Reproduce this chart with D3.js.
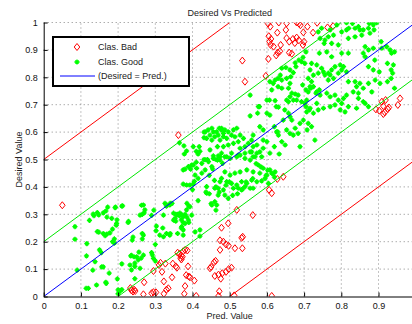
<!DOCTYPE html>
<html>
<head>
<meta charset="utf-8">
<script src="https://cdn.jsdelivr.net/npm/d3@7"></script>
<style>
  body { margin: 0; background: #fff; }
  svg { display: block; font-family: "Liberation Sans", Arial, sans-serif; }
  .grid line { stroke: #888; stroke-dasharray: 1,3; }
  .axis path, .axis line { stroke: #000; }
  .axis text { font-size: 9px; fill: #111; }
</style>
</head>
<body>
<div id="chart"></div>
<script>
// points classified bad [pred, desired]
var badPoints = [
  [0.05,0.333],[0.362,0.589],[0.534,0.861],[0.541,0.784],[0.597,0.805],
  [0.604,0.867],[0.609,0.985],[0.605,0.95],[0.611,0.94],[0.61,0.918],[0.618,0.912],[0.628,0.963],
  [0.632,1.0],[0.637,0.918],[0.629,0.89],[0.625,0.88],[0.635,0.895],[0.653,0.997],[0.653,0.943],
  [0.66,0.93],[0.68,1.0],[0.686,0.996],[0.69,0.99],[0.68,0.945],[0.686,0.935],[0.709,0.985],
  [0.697,0.918],[0.66,0.89],[0.667,0.886],[0.651,0.973],[0.67,0.94],[0.675,0.925],[0.698,0.964],
  [0.7,0.93],[0.724,0.963],[0.735,0.999],[0.763,0.982],[0.778,0.987],[0.603,0.996],[0.607,0.93],
  [0.893,0.683],[0.902,0.678],[0.909,0.711],[0.913,0.695],[0.919,0.717],[0.925,0.684],
  [0.928,0.69],[0.913,0.666],[0.917,0.672],[0.952,0.699],[0.958,0.723],
  [0.644,0.437],[0.628,0.429],[0.606,0.389],[0.613,0.377],[0.519,0.316],[0.562,0.297],
  [0.496,0.267],[0.478,0.251],[0.483,0.2],[0.49,0.19],[0.497,0.185],[0.514,0.176],[0.532,0.214],
  [0.535,0.218],[0.534,0.176],[0.474,0.17],[0.474,0.205],[0.462,0.13],[0.458,0.125],[0.447,0.103],
  [0.45,0.108],[0.46,0.075],[0.47,0.08],[0.48,0.085],[0.49,0.09],[0.497,0.1],[0.505,0.105],
  [0.476,0.065],[0.472,0.019],[0.47,0.002],[0.512,0.004],[0.613,0.002],
  [0.233,0.031],[0.236,0.022],[0.24,0.018],[0.243,0.025],[0.246,0.02],[0.268,0.008],[0.27,0.052],
  [0.29,0.012],[0.295,0.016],[0.302,0.015],[0.314,0.123],[0.318,0.09],[0.323,0.055],[0.323,0.01],
  [0.33,0.025],[0.327,0.12],[0.345,0.07],[0.347,0.12],[0.355,0.11],[0.358,0.105],[0.36,0.16],
  [0.365,0.155],[0.37,0.15],[0.368,0.14],[0.373,0.145],[0.37,0.135],[0.375,0.165],[0.38,0.17],
  [0.386,0.168],[0.388,0.11],[0.39,0.073],[0.393,0.07],[0.38,0.038],[0.378,0.01],[0.405,0.058],
  [0.41,0.002],[0.295,0.093],[0.31,0.115],[0.335,0.03],[0.383,0.078]
];

// points classified good [pred, desired]
var goodPoints = [
  [0.084,0.255],[0.084,0.209],[0.123,0.278],[0.133,0.301],[0.144,0.306],[0.172,0.326],[0.167,0.312],
  [0.193,0.326],[0.21,0.33],[0.183,0.285],[0.196,0.267],[0.227,0.27],[0.144,0.237],[0.16,0.23],
  [0.17,0.228],[0.178,0.232],[0.185,0.246],[0.185,0.2],[0.19,0.195],[0.116,0.193],[0.15,0.17],
  [0.155,0.16],[0.238,0.206],[0.115,0.148],[0.138,0.127],[0.156,0.108],[0.16,0.108],[0.132,0.096],
  [0.176,0.085],[0.09,0.096],[0.21,0.119],[0.236,0.15],[0.198,0.064],[0.167,0.052],[0.168,0.048],
  [0.142,0.042],[0.114,0.03],[0.12,0.03],[0.2,0.024],[0.21,0.025],[0.2,0.01],[0.205,0.02],
  [0.135,0.295],[0.148,0.298],[0.16,0.305],[0.17,0.29],[0.148,0.235],[0.165,0.222],
  [0.192,0.324],[0.197,0.28],[0.195,0.26],[0.19,0.21],[0.212,0.331],[0.228,0.274],[0.24,0.217],
  [0.234,0.148],[0.243,0.145],[0.245,0.122],[0.245,0.11],[0.256,0.162],[0.245,0.065],[0.263,0.333],
  [0.265,0.3],[0.27,0.305],[0.265,0.21],[0.265,0.23],[0.262,0.14],[0.29,0.296],[0.296,0.315],
  [0.303,0.257],[0.302,0.24],[0.3,0.19],[0.292,0.152],[0.29,0.16],[0.3,0.13],[0.32,0.25],
  [0.33,0.23],[0.34,0.23],[0.33,0.33],[0.34,0.34],[0.345,0.34],[0.355,0.3],[0.36,0.3],[0.365,0.295],
  [0.37,0.3],[0.355,0.275],[0.37,0.28],[0.375,0.27],[0.37,0.25],[0.36,0.23],[0.38,0.3],[0.385,0.29],
  [0.39,0.27],[0.39,0.33],[0.385,0.34],[0.4,0.39],[0.405,0.42],[0.378,0.52],[0.38,0.465],
  [0.395,0.465],[0.398,0.48],[0.41,0.53],[0.415,0.52],[0.42,0.53],[0.41,0.49],[0.415,0.35],[0.42,0.22],
  [0.365,0.561],[0.402,0.547],[0.418,0.547],[0.384,0.531],[0.377,0.55],[0.431,0.6],[0.431,0.58],
  [0.431,0.5],[0.434,0.601],[0.442,0.608],[0.452,0.614],[0.456,0.601],[0.447,0.589],[0.465,0.601],
  [0.472,0.614],[0.478,0.608],[0.438,0.577],[0.452,0.571],[0.46,0.583],[0.469,0.589],[0.474,0.571],
  [0.483,0.595],[0.467,0.547],[0.447,0.535],[0.456,0.513],[0.469,0.513],[0.478,0.523],[0.44,0.5],
  [0.463,0.5],
  [0.705,0.893],[0.697,0.873],[0.686,0.863],[0.693,0.857],[0.702,0.851],[0.676,0.853],[0.678,0.839],
  [0.72,0.851],[0.716,0.827],[0.725,0.808],[0.711,0.796],[0.72,0.784],[0.651,0.836],[0.662,0.827],
  [0.671,0.817],[0.664,0.802],[0.653,0.796],[0.64,0.833],[0.636,0.808],[0.63,0.796],[0.64,0.79],
  [0.622,0.79],[0.63,0.766],[0.64,0.76],[0.617,0.778],[0.608,0.784],[0.662,0.778],[0.658,0.76],
  [0.667,0.742],[0.662,0.729],[0.676,0.739],[0.671,0.717],[0.68,0.717],[0.658,0.711],[0.653,0.717],
  [0.613,0.754],[0.6,0.717],[0.607,0.717],[0.625,0.693],[0.631,0.691],[0.622,0.715],[0.555,0.735],
  [0.577,0.693],[0.555,0.659],[0.6,0.669],[0.608,0.662],[0.648,0.681],[0.658,0.669],[0.662,0.656],
  [0.667,0.644],[0.684,0.735],[0.693,0.711],[0.702,0.705],[0.707,0.717],[0.711,0.747],[0.716,0.766],
  [0.725,0.766],[0.707,0.674],[0.716,0.687],[0.725,0.669],[0.698,0.644],[0.711,0.632],[0.72,0.62],
  [0.708,0.608],[0.626,0.601],[0.631,0.589],[0.581,0.62],[0.59,0.571],[0.6,0.565],[0.563,0.547],
  [0.573,0.553],[0.559,0.528],[0.653,0.608],[0.662,0.595],[0.671,0.589],[0.676,0.614],[0.684,0.595],
  [0.689,0.632],[0.644,0.644],[0.64,0.565],[0.649,0.553],[0.608,0.523],[0.689,0.547],[0.729,0.571],
  [0.478,0.614],[0.487,0.608],[0.496,0.601],[0.51,0.608],[0.519,0.614],[0.505,0.589],[0.492,0.577],
  [0.483,0.583],[0.514,0.583],[0.528,0.589],[0.537,0.577],[0.523,0.565],[0.51,0.559],[0.496,0.553],
  [0.483,0.547],[0.528,0.541],[0.541,0.547],[0.55,0.559],[0.559,0.571],[0.563,0.589],[0.555,0.528],
  [0.541,0.523],[0.523,0.516],[0.505,0.523],[0.492,0.51],[0.563,0.51],[0.573,0.523],[0.581,0.528],
  [0.59,0.541],[0.586,0.51],[0.59,0.608],[0.58,0.693],[0.575,0.669],[0.62,0.62],[0.629,0.601],
  [0.62,0.547],[0.633,0.52],
  [0.814,0.999],[0.85,0.973],[0.837,0.979],[0.846,0.985],[0.859,0.973],[0.873,0.979],[0.886,0.991],
  [0.895,0.999],[0.888,0.973],[0.877,0.961],[0.855,0.954],[0.837,0.948],[0.819,0.942],[0.77,0.973],
  [0.788,0.991],[0.779,0.954],[0.765,0.948],[0.756,0.936],[0.743,0.942],[0.792,0.918],[0.774,0.924],
  [0.761,0.893],[0.801,0.888],[0.819,0.888],[0.774,0.875],[0.814,0.973],[0.864,0.912],[0.873,0.9],
  [0.886,0.906],[0.909,0.906],[0.922,0.912],[0.931,0.9],[0.935,0.888],[0.943,0.893],[0.94,0.845],
  [0.89,0.863],[0.886,0.827],[0.873,0.839],[0.859,0.888],[0.864,0.875],[0.734,0.845],[0.747,0.833],
  [0.765,0.815],[0.77,0.809],[0.774,0.827],[0.783,0.839],[0.797,0.845],[0.801,0.827],[0.806,0.839],
  [0.814,0.82],[0.792,0.815],[0.779,0.796],[0.765,0.79],[0.756,0.809],[0.752,0.82],[0.738,0.815],
  [0.819,0.784],[0.837,0.784],[0.85,0.778],[0.841,0.766],[0.832,0.747],[0.846,0.742],[0.859,0.76],
  [0.873,0.778],[0.882,0.747],[0.891,0.79],[0.904,0.778],[0.734,0.747],[0.743,0.735],[0.761,0.742],
  [0.77,0.729],[0.783,0.735],[0.792,0.717],[0.806,0.723],[0.814,0.735],[0.801,0.705],[0.783,0.699],
  [0.77,0.693],[0.752,0.687],[0.738,0.681],[0.734,0.705],[0.797,0.681],[0.81,0.674],[0.819,0.693],
  [0.846,0.723],[0.859,0.711],[0.864,0.705],[0.841,0.687],[0.873,0.693],[0.924,0.851],[0.934,0.827],
  [0.934,0.796],[0.924,0.784],[0.907,0.93],[0.902,0.82],[0.943,0.76],[0.938,0.815],[0.705,0.693],
  [0.714,0.681],[0.696,0.772],[0.705,0.754],[0.718,0.76],[0.732,0.742],[0.741,0.754],[0.741,0.888],
  [0.754,0.924],[0.738,0.966],[0.747,0.979],[0.801,0.966],[0.82,0.979],[0.83,0.997],[0.875,0.997],
  [0.884,1.0],
  [0.375,0.462],[0.389,0.474],[0.402,0.48],[0.411,0.468],[0.425,0.486],[0.434,0.499],[0.443,0.492],
  [0.456,0.504],[0.467,0.498],[0.474,0.51],[0.481,0.486],[0.452,0.474],[0.434,0.462],[0.425,0.45],
  [0.407,0.443],[0.415,0.431],[0.375,0.41],[0.384,0.407],[0.393,0.407],[0.402,0.41],[0.438,0.401],
  [0.438,0.377],[0.46,0.395],[0.469,0.395],[0.469,0.37],[0.46,0.346],[0.452,0.334],[0.465,0.334],
  [0.474,0.419],[0.268,0.334],[0.272,0.316],[0.259,0.297],[0.326,0.34],[0.331,0.334],[0.339,0.334],
  [0.322,0.297],[0.349,0.304],[0.358,0.297],[0.366,0.304],[0.375,0.291],[0.384,0.316],[0.393,0.328],
  [0.398,0.297],[0.389,0.279],[0.38,0.267],[0.371,0.255],[0.375,0.243],[0.349,0.279],[0.353,0.285],
  [0.268,0.224],[0.312,0.224],[0.322,0.218],[0.339,0.224],[0.375,0.224],[0.407,0.236],[0.42,0.243],
  [0.25,0.145],[0.254,0.134],[0.268,0.151],[0.295,0.139],[0.259,0.103],[0.232,0.115],[0.236,0.097],
  [0.474,0.498],[0.487,0.51],[0.501,0.504],[0.519,0.51],[0.528,0.516],[0.541,0.504],[0.555,0.498],
  [0.568,0.51],[0.577,0.48],[0.59,0.468],[0.608,0.462],[0.622,0.455],[0.613,0.45],[0.6,0.443],
  [0.581,0.45],[0.563,0.455],[0.546,0.462],[0.528,0.455],[0.514,0.45],[0.501,0.443],[0.487,0.455],
  [0.478,0.431],[0.492,0.419],[0.505,0.413],[0.519,0.407],[0.532,0.419],[0.546,0.413],[0.559,0.425],
  [0.573,0.419],[0.586,0.422],[0.595,0.431],[0.604,0.413],[0.51,0.395],[0.523,0.395],[0.532,0.389],
  [0.541,0.401],[0.555,0.395],[0.563,0.395],[0.487,0.37],[0.496,0.358],[0.483,0.389],
  [0.454,0.466],[0.445,0.442],[0.459,0.424],[0.463,0.4],[0.472,0.381],[0.49,0.406],[0.499,0.418],
  [0.508,0.369],[0.521,0.375],[0.535,0.393],[0.544,0.418],[0.562,0.43],[0.571,0.485],[0.584,0.473],
  [0.602,0.461],[0.616,0.448],[0.62,0.436],[0.598,0.442],[0.45,0.339],[0.463,0.315],[0.445,0.375],
  [0.436,0.381]
];

// x runs to 1 but the figure is cropped before the "1" label
var xTicks = [0, 0.1, 0.2, 0.3, 0.4, 0.5, 0.6, 0.7, 0.8, 0.9];
var yTicks = [0, 0.1, 0.2, 0.3, 0.4, 0.5, 0.6, 0.7, 0.8, 0.9, 1];
// reference lines: desired = pred + offset
var lineOffsets = [0.5, 0.2, 0, -0.2, -0.5];
var lineColors = ["#ff0000", "#00e600", "#0000ff", "#00e600", "#ff0000"];
var legendLabels = ["Clas. Bad", "Clas. Good", "(Desired = Pred.)"];

var svgWidth = 412, svgHeight = 324;
var margin = { top: 22.5, left: 43.7 };
var width = 372, height = 274;

var x = d3.scaleLinear().domain([0, 1]).range([margin.left, margin.left + width]);
var y = d3.scaleLinear().domain([0, 1]).range([margin.top + height, margin.top]);

var svg = d3.select("#chart").append("svg")
  .attr("width", svgWidth)
  .attr("height", svgHeight);

svg.append("defs").append("clipPath")
  .attr("id", "clip")
  .append("rect")
  .attr("x", x(0)).attr("y", y(1))
  .attr("width", width).attr("height", height);

// dotted grid
var grid = svg.append("g").attr("class", "grid");
grid.selectAll("line.v")
  .data(xTicks.slice(1))
  .enter().append("line")
  .attr("class", "v")
  .attr("x1", d => x(d)).attr("x2", d => x(d))
  .attr("y1", y(0)).attr("y2", y(1));

grid.selectAll("line.h")
  .data(yTicks.slice(1))
  .enter().append("line")
  .attr("class", "h")
  .attr("x1", x(0)).attr("x2", x(1))
  .attr("y1", d => y(d)).attr("y2", d => y(d));

var plot = svg.append("g").attr("clip-path", "url(#clip)");

// bad points, red diamonds
var diamond = "M0,-3.5L2.8,0L0,3.5L-2.8,0Z";
plot.append("g")
  .selectAll("path")
  .data(badPoints)
  .enter().append("path")
  .attr("d", diamond)
  .attr("transform", d => "translate(" + x(d[0]) + "," + y(d[1]) + ")")
  .attr("fill", "none")
  .attr("stroke", "#ff0000")
  .attr("stroke-width", 1);

// good points, green stars
var star = "M-2.6,0H2.6M0,-2.6V2.6M-1.6,-1.6L1.6,1.6M-1.6,1.6L1.6,-1.6";
plot.append("g")
  .selectAll("path")
  .data(goodPoints)
  .enter().append("path")
  .attr("d", star)
  .attr("transform", d => "translate(" + x(d[0]) + "," + y(d[1]) + ")")
  .attr("stroke", "#00ff00")
  .attr("stroke-width", 1.3);

// reference lines
var line = d3.line().x(d => x(d[0])).y(d => y(d[1]));
plot.append("g")
  .selectAll("path")
  .data(lineOffsets)
  .enter().append("path")
  .attr("d", o => line([[Math.max(0, -o), Math.max(0, -o) + o], [Math.min(1, 1 - o), Math.min(1, 1 - o) + o]]))
  .attr("stroke", (o, i) => lineColors[i])
  .attr("stroke-width", 1)
  .attr("fill", "none");

// axes
svg.append("g")
  .attr("class", "axis")
  .attr("transform", "translate(0," + y(0) + ")")
  .call(d3.axisBottom(x).tickValues(xTicks).tickFormat(d3.format("~g"))
    .tickSizeInner(-4).tickSizeOuter(0).tickPadding(6));

svg.append("g")
  .attr("class", "axis")
  .attr("transform", "translate(" + x(0) + ",0)")
  .call(d3.axisLeft(y).tickValues(yTicks).tickFormat(d3.format("~g"))
    .tickSizeInner(-4).tickSizeOuter(0).tickPadding(6));

// titles
svg.append("text")
  .attr("x", x(0.5)).attr("y", 16)
  .attr("text-anchor", "middle")
  .attr("font-size", 9).attr("fill", "#222")
  .text("Desired Vs Predicted");

svg.append("text")
  .attr("x", x(0.5)).attr("y", 318.5)
  .attr("text-anchor", "middle")
  .attr("font-size", 9).attr("fill", "#222")
  .text("Pred. Value");

svg.append("text")
  .attr("transform", "translate(22," + y(0.5) + ") rotate(-90)")
  .attr("text-anchor", "middle")
  .attr("font-size", 9).attr("fill", "#222")
  .text("Desired Value");

// legend
var legend = svg.append("g").attr("transform", "translate(53,37)");
legend.append("rect")
  .attr("width", 136).attr("height", 49)
  .attr("fill", "#fff").attr("stroke", "#000").attr("stroke-width", 2);

legend.append("path")
  .attr("d", diamond)
  .attr("transform", "translate(24,10)")
  .attr("fill", "none").attr("stroke", "#ff0000");
legend.append("path")
  .attr("d", star)
  .attr("transform", "translate(24,25)")
  .attr("stroke", "#00ff00").attr("stroke-width", 1.3);
legend.append("line")
  .attr("x1", 7).attr("x2", 42).attr("y1", 39).attr("y2", 39)
  .attr("stroke", "#0000ff");

legend.selectAll("text")
  .data(legendLabels)
  .enter().append("text")
  .attr("x", 45)
  .attr("y", (d, i) => 10 + i * 14.5)
  .attr("dy", "0.35em")
  .attr("font-size", 9).attr("fill", "#222")
  .text(d => d);
</script>
</body>
</html>
